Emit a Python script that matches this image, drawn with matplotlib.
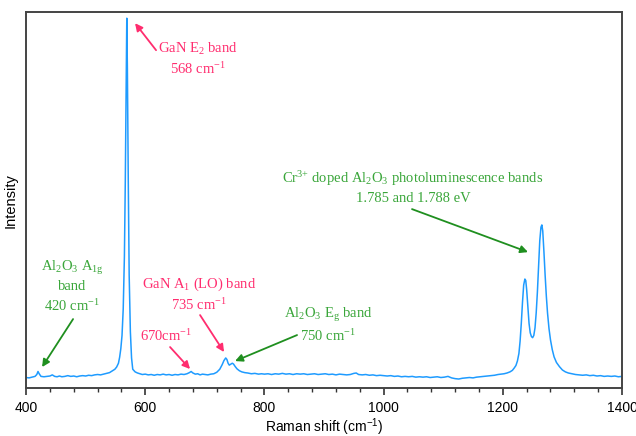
#!/usr/bin/env python3
import matplotlib
matplotlib.use('Agg')
import matplotlib.pyplot as plt
from matplotlib.ticker import MultipleLocator

# Raman spectrum (cm-1, normalised intensity)
shift = [400, 405, 410, 415, 418, 420, 422, 425, 430, 435, 440, 444, 448, 452, 456,
         460, 465, 470, 475, 480, 485, 490, 495, 500, 505, 510, 515, 520, 525, 530,
         535, 540, 545, 549, 552, 555, 557, 559, 561, 563, 565, 566.5, 568, 569, 570,
         571.5, 573, 575, 577, 579, 583, 587, 591, 595, 600, 605, 610, 615, 620, 625,
         630, 635, 640, 645, 650, 655, 660, 665, 670, 674, 677, 680, 684, 688, 692,
         696, 700, 705, 710, 715, 720, 725, 729, 732, 735, 737, 739, 741, 743, 746,
         748, 751, 754, 758, 762, 767, 772, 778, 784, 790, 795, 800, 806, 812, 818,
         824, 830, 836, 842, 848, 854, 860, 866, 872, 878, 884, 890, 896, 902, 908,
         914, 920, 926, 932, 938, 944, 950, 954, 958, 964, 970, 976, 982, 988, 994,
         1000, 1006, 1012, 1018, 1024, 1030, 1036, 1042, 1048, 1054, 1060, 1066, 1072, 1078, 1084,
         1090, 1096, 1102, 1108, 1114, 1120, 1126, 1132, 1138, 1144, 1150, 1156, 1162, 1168, 1174,
         1180, 1186, 1192, 1197, 1202, 1207, 1212, 1216, 1219, 1222, 1224.5, 1227, 1229, 1231, 1233,
         1235, 1237, 1238.5, 1240, 1242, 1244, 1246, 1248, 1250, 1252, 1254, 1256, 1258, 1260, 1262,
         1264, 1265.5, 1267, 1269, 1271, 1273, 1275, 1277.5, 1280, 1283, 1286, 1290, 1295, 1300, 1305,
         1310, 1316, 1322, 1328, 1334, 1340, 1346, 1352, 1358, 1364, 1370, 1376, 1382, 1388, 1394,
         1400]
intensity = [0.028, 0.027, 0.029, 0.031, 0.036, 0.044, 0.038, 0.031, 0.030, 0.031, 0.032, 0.035, 0.031, 0.030, 0.032,
             0.030, 0.031, 0.033, 0.031, 0.032, 0.030, 0.032, 0.033, 0.032, 0.034, 0.033, 0.035, 0.036, 0.035, 0.037,
             0.039, 0.041, 0.046, 0.050, 0.056, 0.066, 0.082, 0.105, 0.140, 0.210, 0.350, 0.550, 0.800, 0.984, 0.850,
             0.550, 0.300, 0.150, 0.080, 0.050, 0.043, 0.040, 0.038, 0.036, 0.037, 0.035, 0.036, 0.034, 0.036, 0.035,
             0.037, 0.035, 0.036, 0.034, 0.036, 0.035, 0.037, 0.036, 0.038, 0.041, 0.044, 0.040, 0.037, 0.038, 0.035,
             0.037, 0.036, 0.035, 0.037, 0.038, 0.042, 0.050, 0.062, 0.073, 0.080, 0.076, 0.066, 0.061, 0.063, 0.066,
             0.064, 0.057, 0.051, 0.046, 0.043, 0.041, 0.040, 0.038, 0.039, 0.037, 0.038, 0.037, 0.038, 0.036, 0.038,
             0.037, 0.039, 0.037, 0.038, 0.036, 0.038, 0.037, 0.038, 0.036, 0.037, 0.038, 0.036, 0.037, 0.038, 0.036,
             0.037, 0.035, 0.037, 0.036, 0.035, 0.036, 0.039, 0.040, 0.036, 0.035, 0.036, 0.034, 0.035, 0.033, 0.034,
             0.033, 0.032, 0.033, 0.031, 0.032, 0.030, 0.031, 0.030, 0.031, 0.029, 0.030, 0.029, 0.030, 0.028, 0.029,
             0.030, 0.028, 0.029, 0.031, 0.027, 0.025, 0.024, 0.026, 0.027, 0.028, 0.027, 0.029, 0.030, 0.031, 0.032,
             0.033, 0.034, 0.036, 0.037, 0.038, 0.040, 0.043, 0.047, 0.053, 0.060, 0.072, 0.092, 0.125, 0.172, 0.228,
             0.274, 0.290, 0.286, 0.262, 0.215, 0.172, 0.147, 0.137, 0.134, 0.140, 0.160, 0.200, 0.255, 0.325, 0.392,
             0.428, 0.434, 0.418, 0.362, 0.300, 0.245, 0.200, 0.158, 0.128, 0.102, 0.083, 0.068, 0.057, 0.048, 0.043,
             0.040, 0.038, 0.036, 0.035, 0.034, 0.035, 0.033, 0.034, 0.032, 0.033, 0.031, 0.032, 0.031, 0.032, 0.030,
             0.031]

PINK = '#ff2d6f'
GREEN_TXT = '#3aa63a'
GREEN_ARR = '#1f8f1f'
SERIF = 'Liberation Serif'

plt.rcParams['mathtext.default'] = 'regular'
plt.rcParams['font.family'] = 'Liberation Sans'

fig = plt.figure(figsize=(6.36, 4.36), dpi=100)
ax = fig.add_axes([0.041, 0.110, 0.937, 0.862])
ax.plot(shift, intensity, color='#1e9bff', lw=1.1)

ax.set_xlim(400, 1400)
ax.set_ylim(0, 1.0)
ax.xaxis.set_major_locator(MultipleLocator(200))
ax.xaxis.set_minor_locator(MultipleLocator(40))
ax.tick_params(axis='x', which='major', direction='out', length=5, width=1.2,
               labelsize=10, color='#333333', pad=4)
ax.tick_params(axis='x', which='minor', direction='out', length=3, width=1.0, color='#333333')
ax.set_yticks([])
for s in ax.spines.values():
    s.set_color('#444444')
    s.set_linewidth(1.4)

ax.set_xlabel('Raman shift (cm$^{-1}$)', fontsize=10, labelpad=1)
ax.set_ylabel('Intensity', fontsize=10.5, labelpad=6)


def px(X, Y):
    # figure pixel -> data coords
    return ((X - 26) / 0.596 + 400, (388 - Y) / 376)


def note(text, pos, color, tail, head, acolor):
    ax.annotate('', xy=px(*head), xytext=px(*tail),
                arrowprops=dict(arrowstyle='-|>', color=acolor, lw=1.3,
                                mutation_scale=11, shrinkA=0, shrinkB=0))
    ax.text(*px(*pos), text, color=color, family=SERIF, fontsize=10.5,
            ha='center', va='center', linespacing=1.35)


note('GaN E$_2$ band\n568 cm$^{-1}$', (198, 59), PINK, (156, 50), (135, 23), PINK)
note('Cr$^{3{+}}$ doped Al$_2$O$_3$ photoluminescence bands\n1.785 and 1.788 eV',
     (413, 187), GREEN_TXT, (412, 209), (528, 252), GREEN_ARR)
note('Al$_2$O$_3$ A$_{1g}$\nband\n420 cm$^{-1}$', (72, 286), GREEN_TXT,
     (73, 319), (42, 367), GREEN_ARR)
note('GaN A$_1$ (LO) band\n735 cm$^{-1}$', (199, 294), PINK, (200, 315), (224, 352), PINK)
note('670cm$^{-1}$', (166, 336), PINK, (170, 347), (190, 369), PINK)
note('Al$_2$O$_3$ E$_g$ band\n750 cm$^{-1}$', (328, 325), GREEN_TXT,
     (297, 335), (235, 361), GREEN_ARR)

fig.savefig('out.png', dpi=100)
